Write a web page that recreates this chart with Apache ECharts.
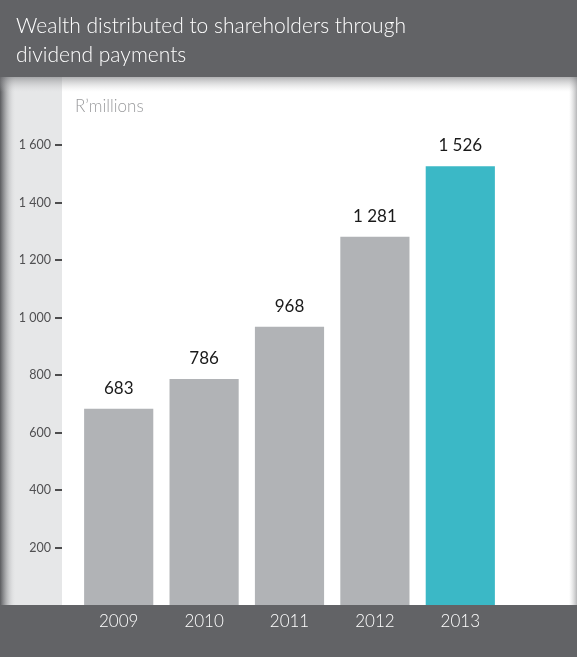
<!DOCTYPE html>
<html>
<head>
<meta charset="utf-8">
<script src="https://cdn.jsdelivr.net/npm/echarts@6/dist/echarts.min.js"></script>
<style>
  html, body { margin: 0; padding: 0; background: #ffffff; }
  #chart { width: 577px; height: 657px; }
</style>
</head>
<body>
<div id="chart"></div>
<script>
// Dividend payments, R'millions
const years = ['2009', '2010', '2011', '2012', '2013'];
const dividends = [683, 786, 968, 1281, 1526];
const yTickValues = [200, 400, 600, 800, 1000, 1200, 1400, 1600];

const FONT = 'Lato';
const DARK = '#626366';
const GREY_BAR = '#b1b3b6';
const TEAL = '#3bb8c6';

// thousands separated by a space: 1526 -> "1 526"
function fmt(v) {
  return String(v).replace(/\B(?=(\d{3})+(?!\d))/g, ' ');
}

const chart = echarts.init(document.getElementById('chart'), null, { renderer: 'canvas' });

chart.setOption({
  animation: false,
  backgroundColor: '#ffffff',
  textStyle: { fontFamily: FONT },
  graphic: [
    // light strip behind the value axis
    { type: 'rect', z: -20, shape: { x: 0, y: 76, width: 62, height: 530 }, style: { fill: '#e6e7e8' } },
    // left edge shadow
    { type: 'rect', z: -15, shape: { x: 0, y: 76, width: 16, height: 530 },
      style: { fill: new echarts.graphic.LinearGradient(0, 0, 1, 0, [
        { offset: 0, color: 'rgba(90,91,94,1)' },
        { offset: 0.25, color: 'rgba(120,121,124,0.75)' },
        { offset: 1, color: 'rgba(230,231,232,0)' }
      ]) } },
    // right edge shadow
    { type: 'rect', z: -15, shape: { x: 569, y: 76, width: 8, height: 530 },
      style: { fill: new echarts.graphic.LinearGradient(0, 0, 1, 0, [
        { offset: 0, color: 'rgba(200,200,202,0)' },
        { offset: 1, color: 'rgba(150,151,153,0.7)' }
      ]) } },
    // shadow under the header band
    { type: 'rect', z: -14, shape: { x: 0, y: 76, width: 577, height: 16 },
      style: { fill: new echarts.graphic.LinearGradient(0, 0, 0, 1, [
        { offset: 0, color: 'rgba(110,111,114,0.6)' },
        { offset: 1, color: 'rgba(200,200,202,0)' }
      ]) } },
    // header band
    { type: 'rect', z: -10, shape: { x: 0, y: 0, width: 577, height: 77 }, style: { fill: DARK } },
    // footer band
    { type: 'rect', z: -10, shape: { x: 0, y: 605, width: 577, height: 52 }, style: { fill: DARK } },
    // title
    { type: 'text', z: 10, left: 16, top: 12,
      style: { text: 'Wealth distributed to shareholders through\ndividend payments',
        fill: '#ffffff', font: '300 21px ' + FONT, lineHeight: 29 } },
    // unit
    { type: 'text', z: 10, left: 75, top: 98,
      style: { text: 'R\u2019millions', fill: '#9a9b9d', font: '300 17px ' + FONT } }
  ],
  grid: { left: 76, right: 74, top: 145, bottom: 52, containLabel: false },
  xAxis: {
    type: 'category',
    data: years,
    axisLine: { show: false },
    axisTick: { show: false },
    axisLabel: { color: '#ffffff', fontSize: 17, fontWeight: 300, margin: 8, fontFamily: FONT }
  },
  yAxis: {
    type: 'value',
    min: 0,
    max: 1600,
    interval: 200,
    offset: 14,
    splitLine: { show: false },
    axisLine: { show: false },
    axisTick: { show: true, length: 7, lineStyle: { color: '#1a1a1a', width: 1.5 }, customValues: yTickValues },
    axisLabel: { color: '#505052', fontSize: 12.5, margin: 11, fontFamily: FONT,
      customValues: yTickValues, formatter: fmt }
  },
  series: [{
    type: 'bar',
    data: dividends.map((v, i) => ({
      value: v,
      itemStyle: { color: i === dividends.length - 1 ? TEAL : GREY_BAR }
    })),
    barCategoryGap: '19%',
    label: {
      show: true, position: 'top', distance: 12,
      color: '#1a1a1a', fontSize: 17, fontFamily: FONT,
      formatter: p => fmt(p.value)
    }
  }]
});
</script>
</body>
</html>
